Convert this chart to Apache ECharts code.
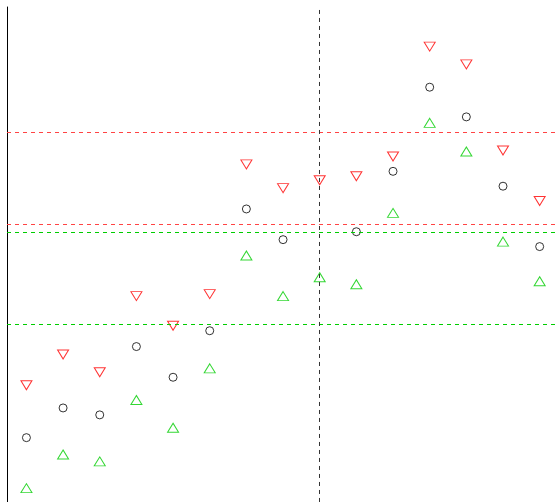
<!DOCTYPE html>
<html>
<head>
<meta charset="utf-8">
<script src="https://cdn.jsdelivr.net/npm/echarts@6/dist/echarts.min.js"></script>
<style>
  html, body { margin: 0; padding: 0; background: #fff; }
  #chart { width: 559px; height: 502px; }
</style>
</head>
<body>
<div id="chart"></div>
<script>
// positions along the horizontal axis
const xs = [1, 2, 3, 4, 5, 6, 7, 8, 9, 10, 11, 12, 13, 14, 15];
// central estimate (missing at 9)
const mid = [6.5, 9.5, 8.8, 15.7, 12.6, 17.3, 29.6, 26.5, null, 27.3, 33.4, 41.9, 38.9, 31.9, 25.8];
// upper bound
const upper = [11.8, 14.9, 13.1, 20.8, 17.8, 21.0, 34.1, 31.7, 32.5, 32.9, 34.9, 46.0, 44.2, 35.5, 30.4];
// lower bound
const lower = [1.4, 4.8, 4.1, 10.3, 7.5, 13.5, 24.9, 20.8, 22.7, 22.0, 29.2, 38.3, 35.4, 26.3, 22.3];
// reference levels
const redLevels = [37.35, 28.08];
const greenLevels = [27.27, 17.99];
const splitX = 9;
const splitTop = 49.7;

const pairs = (vals) => xs.map((x, i) => vals[i] == null ? null : [x, vals[i]]).filter(Boolean);

const dashed = (color) => ({ color: color, type: [4, 4], width: 1 });

// an invisible carrier series holding one horizontal dashed level
const level = (v, color) => ({
  type: 'scatter',
  data: [],
  silent: true,
  markLine: {
    silent: true,
    symbol: 'none',
    label: { show: false },
    lineStyle: dashed(color),
    emphasis: { disabled: true },
    data: [{ yAxis: v, lineStyle: dashed(color) }]
  }
});

const series = [];
redLevels.forEach(v => series.push(level(v, '#ff4444')));
greenLevels.forEach(v => series.push(level(v, '#00cd00')));

series.push(
  {
    type: 'scatter',
    data: pairs(mid),
    symbol: 'circle',
    symbolSize: 8,
    itemStyle: { color: 'transparent', borderColor: '#000', borderWidth: 1 },
    markLine: {
      silent: true,
      symbol: 'none',
      label: { show: false },
      lineStyle: dashed('#333'),
      data: [[{ coord: [splitX, splitTop] }, { coord: [splitX, 0] }]]
    }
  },
  {
    type: 'scatter',
    data: pairs(upper),
    symbol: 'triangle',
    symbolRotate: 180,
    symbolSize: [11, 9],
    itemStyle: { color: 'transparent', borderColor: '#ff0000', borderWidth: 1 }
  },
  {
    type: 'scatter',
    data: pairs(lower),
    symbol: 'triangle',
    symbolSize: [11, 9],
    itemStyle: { color: 'transparent', borderColor: '#00cd00', borderWidth: 1 }
  }
);

const chart = echarts.init(document.getElementById('chart'));
chart.setOption({
  animation: false,
  grid: { left: 7, right: 1, top: 7, bottom: -1, containLabel: false },
  xAxis: {
    type: 'value', min: 0.47, max: 15.5,
    show: false
  },
  yAxis: {
    type: 'value', min: 0, max: 50,
    axisLine: { show: true, onZero: false, lineStyle: { color: '#000', width: 1 } },
    axisTick: { show: false },
    axisLabel: { show: false },
    splitLine: { show: false }
  },
  series: series
});
</script>
</body>
</html>
